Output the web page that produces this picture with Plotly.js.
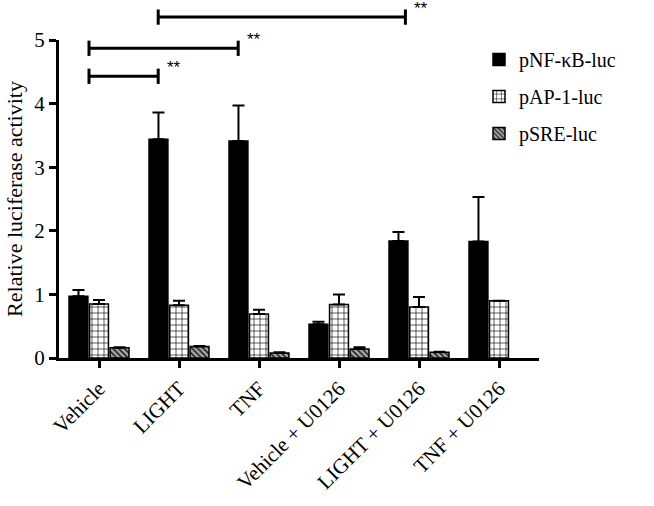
<!DOCTYPE html>
<html>
<head>
<meta charset="utf-8">
<script src="https://cdn.plot.ly/plotly-3.0.1.min.js"></script>
<style>
  html, body { margin: 0; padding: 0; background: #fff; }
  #chart { width: 654px; height: 506px; }
</style>
</head>
<body>
<div id="chart"></div>
<script>
// treatments on the x axis
const categories = ["Vehicle", "LIGHT", "TNF", "Vehicle + U0126", "LIGHT + U0126", "TNF + U0126"];

// reporter series (mean and upward error)
const nfkbValues = [0.97, 3.44, 3.41, 0.53, 1.84, 1.83];
const nfkbErrors = [0.10, 0.42, 0.56, 0.04, 0.14, 0.70];
const ap1Values = [0.85, 0.83, 0.69, 0.84, 0.80, 0.90];
const ap1Errors = [0.06, 0.07, 0.07, 0.16, 0.16, 0];
const sreValues = [0.16, 0.18, 0.08, 0.14, 0.09, null];
const sreErrors = [0.01, 0.01, 0.01, 0.03, 0.01, 0];

// significance brackets: start / end in category units, height in y units
const bracketFrom = [-0.125, -0.125, 0.74];
const bracketTo = [0.74, 1.74, 3.83];
const bracketLevel = [4.43, 4.87, 5.36];
const bracketLabel = ["**", "**", "**"];

const xRange = [-0.5, 5.5];
const yMax = 5;
const serif = "Liberation Serif, Times New Roman, serif";

function bar(name, values, errors, pattern, color) {
  return {
    type: "bar",
    name: name,
    legendgroup: name,
    x: categories,
    y: values,
    marker: {
      color: color,
      line: { color: "#000", width: 1.5 },
      pattern: pattern
    },
    error_y: {
      type: "data",
      symmetric: false,
      array: errors,
      arrayminus: errors.map(() => 0),
      color: "#000",
      thickness: 2,
      width: 6
    }
  };
}

const traces = [
  bar("pNF-κB-luc", nfkbValues, nfkbErrors, { shape: "" }, "#000"),
  bar("pAP-1-luc", ap1Values, ap1Errors,
      { shape: "+", fgcolor: "#000", bgcolor: "#fff", size: 6, solidity: 0.2 }, "#fff"),
  bar("pSRE-luc", sreValues, sreErrors,
      { shape: "\\", fgcolor: "#222", bgcolor: "#aaa", size: 4, solidity: 0.4 }, "#aaa")
];

// category position -> paper coordinate so brackets can sit above the axis
const toPaperX = (c) => (c - xRange[0]) / (xRange[1] - xRange[0]);
const toPaperY = (v) => v / yMax;

const shapes = [];
const annotations = [];
const lineStyle = { color: "#000", width: 3 };
bracketFrom.forEach((from, i) => {
  const x0 = toPaperX(from), x1 = toPaperX(bracketTo[i]);
  const y = toPaperY(bracketLevel[i]);
  const cap = 0.12 / yMax;
  shapes.push({ type: "line", xref: "paper", yref: "paper", x0: x0, x1: x1, y0: y, y1: y, line: lineStyle });
  shapes.push({ type: "line", xref: "paper", yref: "paper", x0: x0, x1: x0, y0: y - cap, y1: y + cap, line: lineStyle });
  shapes.push({ type: "line", xref: "paper", yref: "paper", x0: x1, x1: x1, y0: y - cap, y1: y + cap, line: lineStyle });
  annotations.push({
    xref: "paper", yref: "paper", x: x1, y: y, xanchor: "left", yanchor: "bottom",
    xshift: 7, yshift: -3, showarrow: false, text: bracketLabel[i],
    font: { family: "Liberation Sans, Arial, sans-serif", size: 17, color: "#000" }
  });
});

const layout = {
  width: 654,
  height: 506,
  margin: { l: 59, r: 115, t: 40, b: 148 },
  paper_bgcolor: "#fff",
  plot_bgcolor: "#fff",
  font: { family: serif, color: "#000" },
  barmode: "group",
  bargap: 0.23,
  bargroupgap: 0.08,
  showlegend: true,
  legend: {
    x: 0.875, y: 1.0, xanchor: "left", yanchor: "top",
    bgcolor: "rgba(0,0,0,0)",
    font: { family: serif, size: 20 },
    tracegroupgap: 8
  },
  xaxis: {
    type: "category",
    range: xRange,
    showline: true, linecolor: "#000", linewidth: 3,
    ticks: "outside", ticklen: 7, tickwidth: 3, tickcolor: "#000",
    tickangle: -45,
    tickfont: { family: serif, size: 21 },
    showgrid: false, zeroline: false, fixedrange: true
  },
  yaxis: {
    range: [0, yMax],
    tickvals: [0, 1, 2, 3, 4, 5],
    showline: true, linecolor: "#000", linewidth: 3,
    ticks: "outside", ticklen: 7, tickwidth: 3, tickcolor: "#000",
    tickfont: { family: serif, size: 21 },
    showgrid: false, zeroline: false,
    title: { text: "Relative luciferase activity", font: { family: serif, size: 22 }, standoff: 6 }
  },
  shapes: shapes,
  annotations: annotations
};

Plotly.newPlot("chart", traces, layout, { displayModeBar: false, staticPlot: true });
</script>
</body>
</html>
